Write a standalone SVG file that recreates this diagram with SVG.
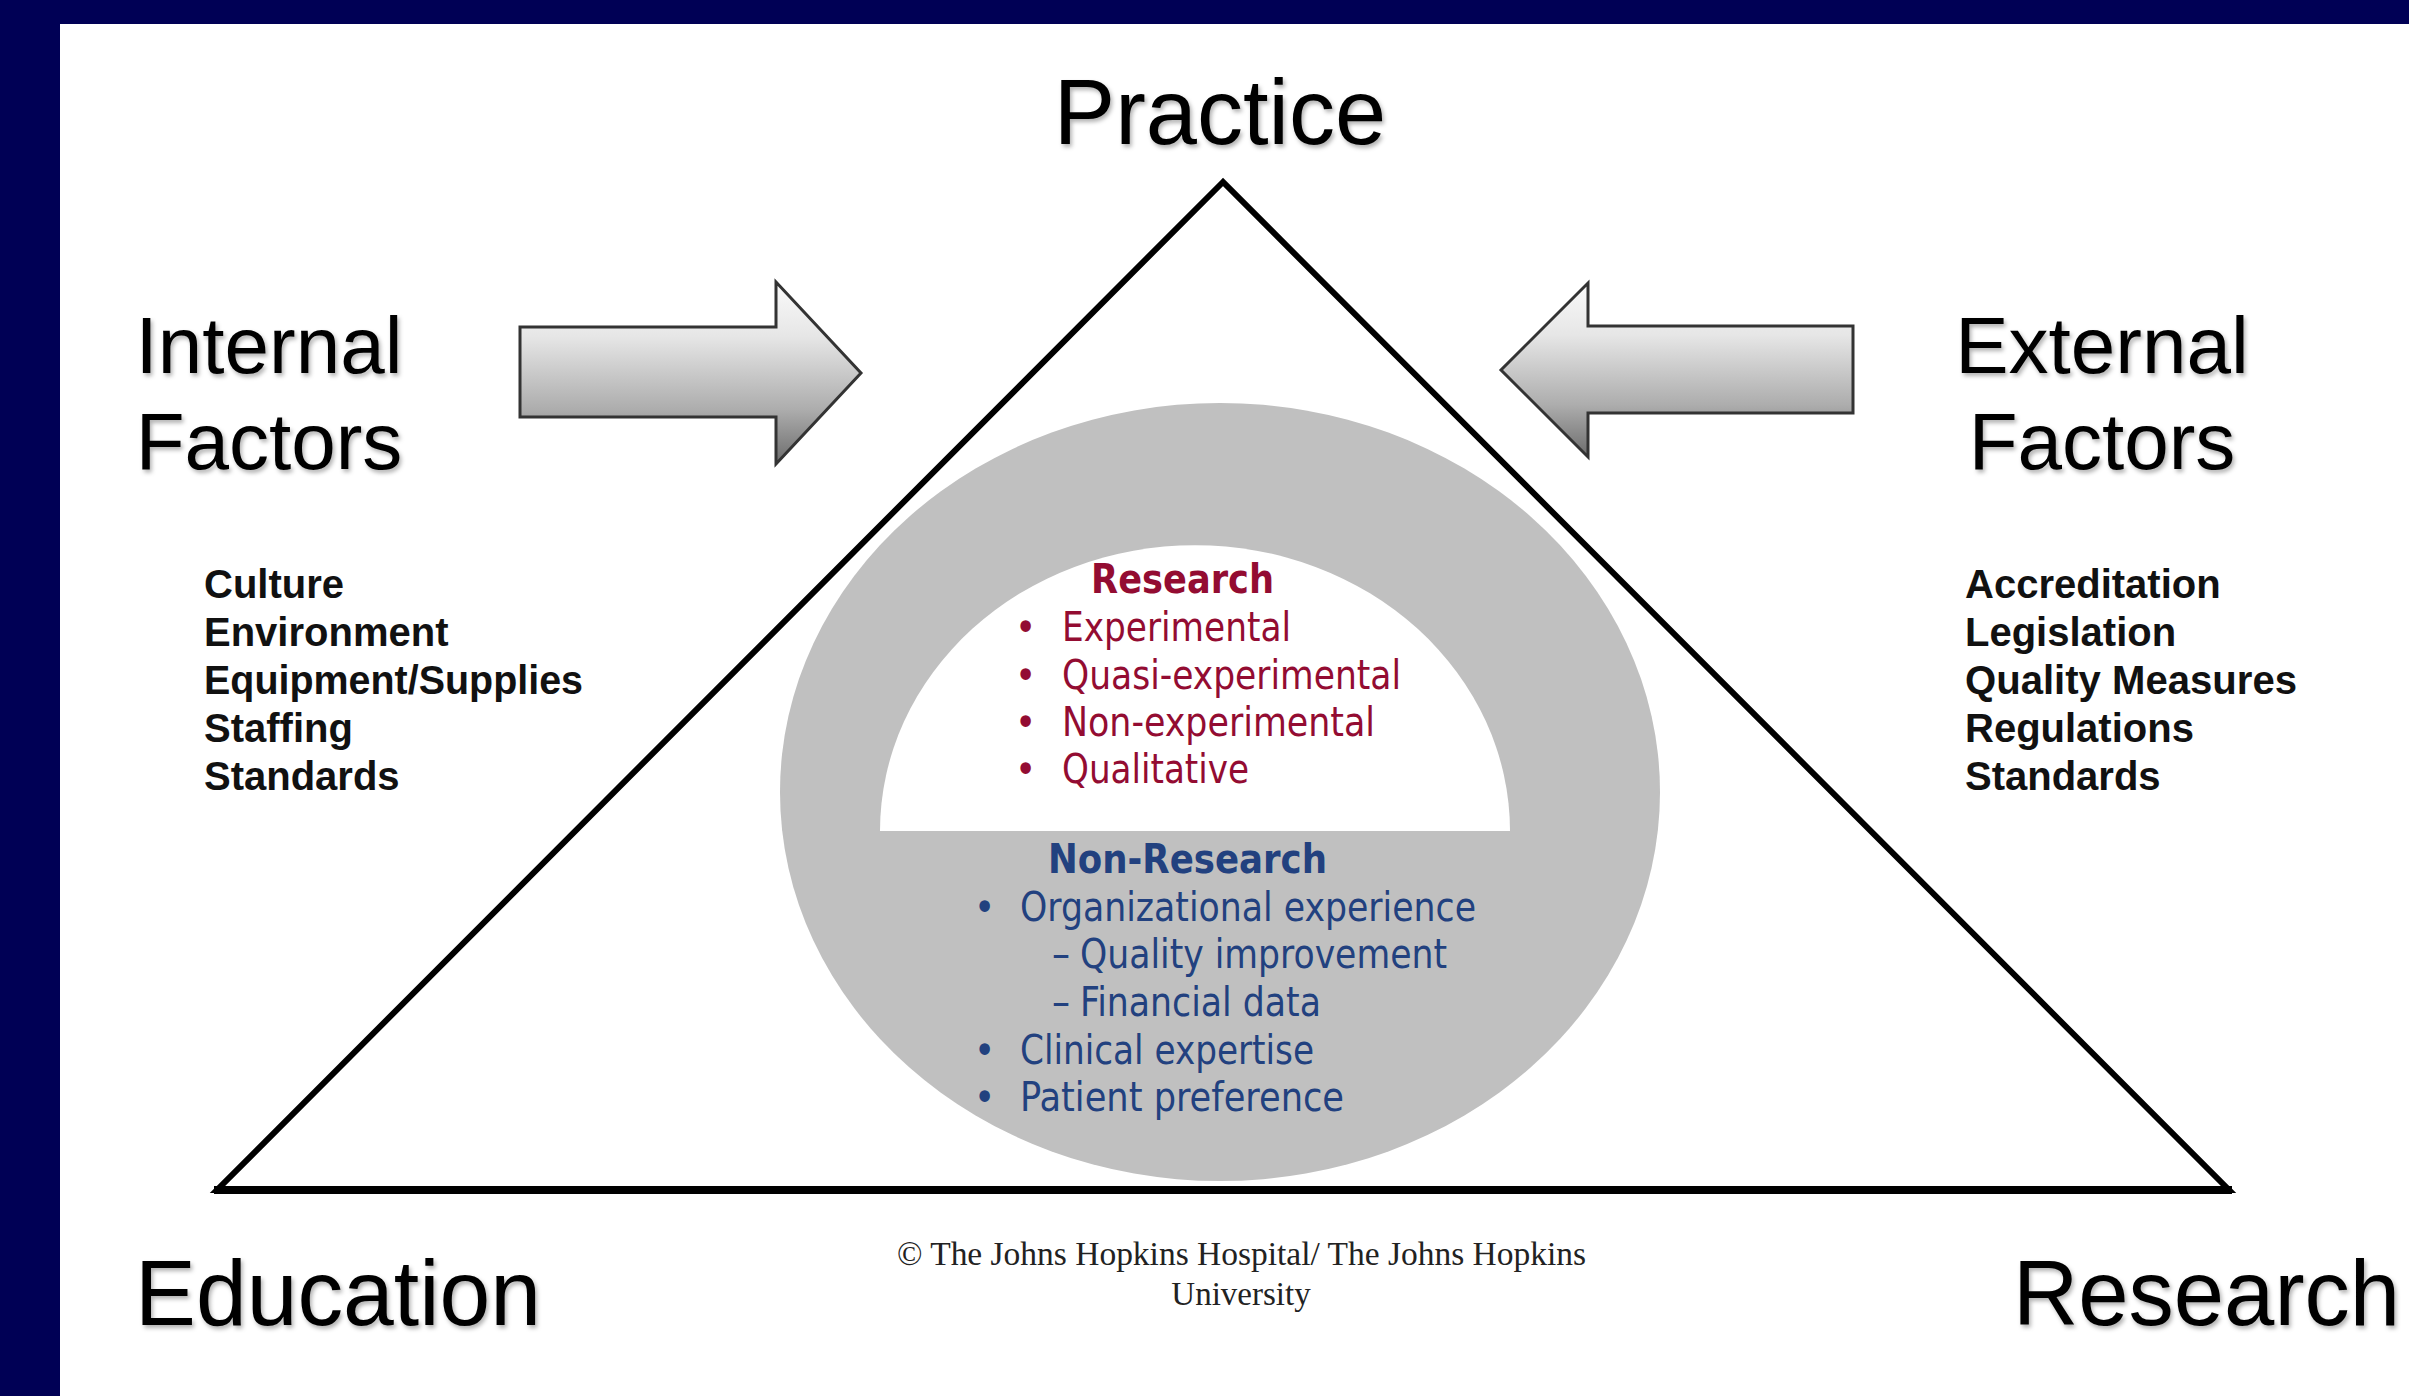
<svg xmlns="http://www.w3.org/2000/svg" width="2409" height="1396" viewBox="0 0 2409 1396">
  <defs>
    <linearGradient id="arrowFill" x1="0" y1="0" x2="0" y2="1">
      <stop offset="0" stop-color="#fafafa"/>
      <stop offset="0.3" stop-color="#e6e6e6"/>
      <stop offset="0.7" stop-color="#adadad"/>
      <stop offset="1" stop-color="#6c6c6c"/>
    </linearGradient>
    <filter id="soft" x="-5%" y="-20%" width="110%" height="150%">
      <feDropShadow dx="2" dy="3" stdDeviation="2" flood-color="#000" flood-opacity="0.3"/>
    </filter>
    <style>
      .big { font-family: "Liberation Sans", Arial, sans-serif; fill: #000; filter: url(#soft); }
      .list { font-family: "Liberation Sans", Arial, sans-serif; font-weight: bold; font-size: 40px; fill: #111; }
      .red { font-family: "DejaVu Sans Condensed", "DejaVu Sans", sans-serif; fill: #930c32; font-size: 40px; }
      .blue { font-family: "DejaVu Sans Condensed", "DejaVu Sans", sans-serif; fill: #22417f; font-size: 40px; }
      .head { font-weight: bold; }
      .arrow { fill: url(#arrowFill); stroke: #333; stroke-width: 3; stroke-linejoin: miter; }
      .copy { font-family: "Liberation Serif", "Times New Roman", serif; font-size: 33px; fill: #222; }
    </style>
  </defs>

  <!-- slide frame -->
  <rect x="0" y="0" width="2409" height="1396" fill="#000055"/>
  <rect x="60" y="24" width="2349" height="1372" fill="#ffffff"/>

  <!-- central evidence oval -->
  <g id="evidence-oval">
    <ellipse cx="1220" cy="792" rx="440" ry="389" fill="#c0c0c0"/>
    <path d="M880,831 A315,286 0 0 1 1510,831 Z" fill="#ffffff"/>
  </g>

  <!-- triangle -->
  <g id="triangle">
    <polygon points="1223,182 217,1190 2229,1190" fill="none" stroke="#000" stroke-width="6" stroke-linejoin="miter"/>
    <line x1="214" y1="1190" x2="2232" y2="1190" stroke="#000" stroke-width="8"/>
  </g>

  <!-- factor arrows -->
  <g id="connectors">
    <polygon class="arrow" points="520,327 776,327 776,282 861,373 776,464 776,417 520,417"/>
    <polygon class="arrow" points="1853,326 1588,326 1588,283 1501,370 1588,457 1588,413 1853,413"/>
  </g>

  <g id="practice">
    <text class="big" x="1220" y="144" font-size="92" text-anchor="middle">Practice</text>
  </g>

  <g id="internal-factors">
    <text class="big" x="269" y="373" font-size="80" text-anchor="middle">Internal</text>
    <text class="big" x="269" y="469" font-size="80" text-anchor="middle">Factors</text>
    <text class="list" x="204" y="598">Culture</text>
    <text class="list" x="204" y="646">Environment</text>
    <text class="list" x="204" y="694" textLength="379" lengthAdjust="spacingAndGlyphs">Equipment/Supplies</text>
    <text class="list" x="204" y="742">Staffing</text>
    <text class="list" x="204" y="790">Standards</text>
  </g>

  <g id="external-factors">
    <text class="big" x="2102" y="373" font-size="80" text-anchor="middle">External</text>
    <text class="big" x="2102" y="469" font-size="80" text-anchor="middle">Factors</text>
    <text class="list" x="1965" y="598">Accreditation</text>
    <text class="list" x="1965" y="646">Legislation</text>
    <text class="list" x="1965" y="694" textLength="332" lengthAdjust="spacingAndGlyphs">Quality Measures</text>
    <text class="list" x="1965" y="742">Regulations</text>
    <text class="list" x="1965" y="790">Standards</text>
  </g>

  <g id="research-evidence">
    <text class="red head" x="1091" y="593" textLength="183" lengthAdjust="spacingAndGlyphs">Research</text>
    <text class="red" x="1015" y="641">•</text>
    <text class="red" x="1062" y="641" textLength="229" lengthAdjust="spacingAndGlyphs">Experimental</text>
    <text class="red" x="1015" y="689">•</text>
    <text class="red" x="1062" y="689" textLength="339" lengthAdjust="spacingAndGlyphs">Quasi-experimental</text>
    <text class="red" x="1015" y="736">•</text>
    <text class="red" x="1062" y="736" textLength="313" lengthAdjust="spacingAndGlyphs">Non-experimental</text>
    <text class="red" x="1015" y="783">•</text>
    <text class="red" x="1062" y="783" textLength="187" lengthAdjust="spacingAndGlyphs">Qualitative</text>
  </g>

  <g id="non-research-evidence">
    <text class="blue head" x="1048" y="873" textLength="279" lengthAdjust="spacingAndGlyphs">Non-Research</text>
    <text class="blue" x="974" y="921">•</text>
    <text class="blue" x="1020" y="921" textLength="456" lengthAdjust="spacingAndGlyphs">Organizational experience</text>
    <text class="blue" x="1052" y="968">–</text>
    <text class="blue" x="1080" y="968" textLength="367" lengthAdjust="spacingAndGlyphs">Quality improvement</text>
    <text class="blue" x="1052" y="1016">–</text>
    <text class="blue" x="1080" y="1016" textLength="241" lengthAdjust="spacingAndGlyphs">Financial data</text>
    <text class="blue" x="974" y="1064">•</text>
    <text class="blue" x="1020" y="1064" textLength="294" lengthAdjust="spacingAndGlyphs">Clinical expertise</text>
    <text class="blue" x="974" y="1111">•</text>
    <text class="blue" x="1020" y="1111" textLength="324" lengthAdjust="spacingAndGlyphs">Patient preference</text>
  </g>

  <g id="education">
    <text class="big" x="135" y="1325" font-size="93" textLength="406" lengthAdjust="spacingAndGlyphs">Education</text>
  </g>

  <g id="research">
    <text class="big" x="2013" y="1325" font-size="93" textLength="387" lengthAdjust="spacingAndGlyphs">Research</text>
  </g>

  <g id="copyright">
    <text class="copy" x="897" y="1265" textLength="689" lengthAdjust="spacingAndGlyphs">© The Johns Hopkins Hospital/ The Johns Hopkins</text>
    <text class="copy" x="1241" y="1305" text-anchor="middle">University</text>
  </g>
</svg>
